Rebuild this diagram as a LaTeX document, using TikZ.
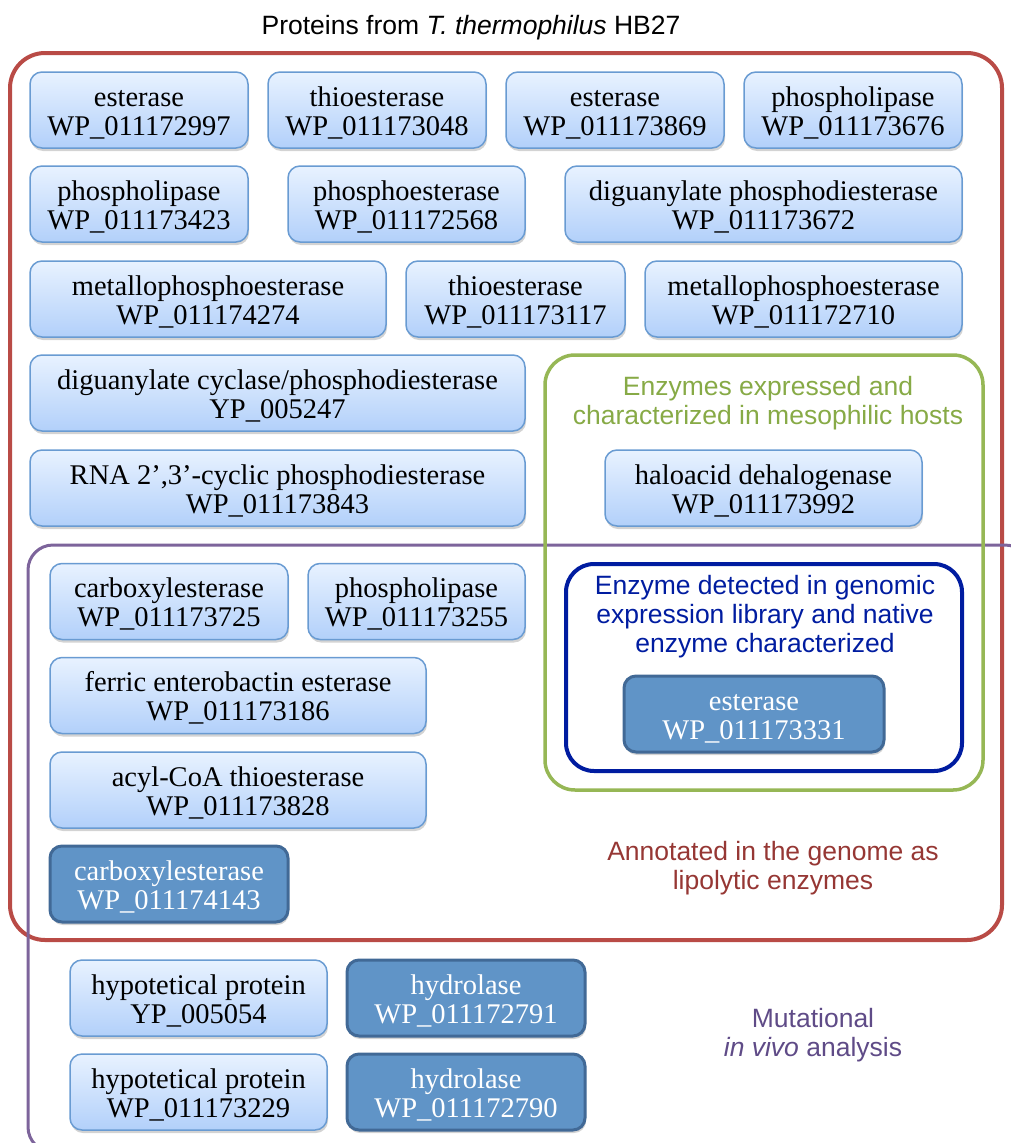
\documentclass[tikz,border=0pt]{standalone}
\usepackage{fontspec}
\setmainfont{Liberation Serif}
\newfontfamily\sansf{Liberation Sans}
\usetikzlibrary{shadows}
\definecolor{redc}{RGB}{185,75,70}
\definecolor{redt}{RGB}{150,55,52}
\definecolor{greenc}{RGB}{150,183,85}
\definecolor{greent}{RGB}{135,170,70}
\definecolor{navyc}{RGB}{0,28,160}
\definecolor{purc}{RGB}{125,100,155}
\definecolor{purt}{RGB}{95,75,135}
\definecolor{ltop}{RGB}{232,242,255}
\definecolor{lbot}{RGB}{178,208,250}
\definecolor{ledge}{RGB}{105,155,210}
\definecolor{dfill}{RGB}{96,148,199}
\definecolor{dedge}{RGB}{65,105,150}
\newcommand{\tl}[2]{\rule{0pt}{25pt}#1\\#2\rule[-4pt]{0pt}{4pt}}
\tikzset{
  lbox/.style={rounded corners=12pt, draw=ledge, line width=1.5pt,
    top color=ltop, bottom color=lbot, align=center, inner sep=0pt,
    minimum height=76pt, font=\fontsize{28.5}{29}\selectfont,
    drop shadow={shadow xshift=1pt, shadow yshift=-3pt, opacity=0.35}},
  dbox/.style={rounded corners=12pt, draw=dedge, line width=3pt,
    fill=dfill, text=white, align=center, inner sep=0pt,
    minimum height=76pt, font=\fontsize{28.5}{29}\selectfont,
    drop shadow={shadow xshift=1pt, shadow yshift=-3pt, opacity=0.35}},
  lbl/.style={align=center, font=\sansf\fontsize{26.5}{29}\selectfont},
}
\begin{document}
\begin{tikzpicture}[x=1pt,y=-1pt]
\useasboundingbox (0,0) rectangle (1011,1143);
\clip (0,0) rectangle (1011,1143);
% frames
\draw[redc, line width=4pt, rounded corners=35pt] (10,53) rectangle (1002,940);
\draw[purc, line width=3pt, rounded corners=25pt] (28,545) rectangle (1030,1152);
\draw[greenc, line width=3.5pt, rounded corners=30pt] (545,355) rectangle (983,790);
\draw[navyc, line width=4pt, rounded corners=28pt] (566,564) rectangle (962,771);
% labels
\node[lbl] (title) at (471,28) {Proteins from \textit{T. thermophilus} HB27};
\node[lbl, text=greent] (glbl) at (768,403) {Enzymes expressed and\\characterized in mesophilic hosts};
\node[lbl, text=navyc] (nlbl) at (765,617) {Enzyme detected in genomic\\expression library and native\\enzyme characterized};
\node[lbl, text=redt] (rlbl) at (773,868) {Annotated in the genome as\\lipolytic enzymes};
\node[lbl, text=purt] (plbl) at (813,1035) {Mutational\\\textit{in vivo} analysis};
% row 1
\node[lbox, minimum width=218pt] (a1) at (139,110) {\tl{esterase}{WP\_011172997}};
\node[lbox, minimum width=218pt] (a2) at (377,110) {\tl{thioesterase}{WP\_011173048}};
\node[lbox, minimum width=218pt] (a3) at (615,110) {\tl{esterase}{WP\_011173869}};
\node[lbox, minimum width=218pt] (a4) at (853,110) {\tl{phospholipase}{WP\_011173676}};
% row 2
\node[lbox, minimum width=218pt] (b1) at (139,204) {\tl{phospholipase}{WP\_011173423}};
\node[lbox, minimum width=237pt] (b2) at (406.5,204) {\tl{phosphoesterase}{WP\_011172568}};
\node[lbox, minimum width=397pt] (b3) at (763.5,204) {\tl{diguanylate phosphodiesterase}{WP\_011173672}};
% row 3
\node[lbox, minimum width=356pt] (c1) at (208,299) {\tl{metallophosphoesterase}{WP\_011174274}};
\node[lbox, minimum width=219pt] (c2) at (515.5,299) {\tl{thioesterase}{WP\_011173117}};
\node[lbox, minimum width=317pt] (c3) at (803.5,299) {\tl{metallophosphoesterase}{WP\_011172710}};
% row 4, 5
\node[lbox, minimum width=495pt] (d1) at (277.5,393) {\tl{diguanylate cyclase/phosphodiesterase}{YP\_005247}};
\node[lbox, minimum width=495pt] (e1) at (277.5,488) {\tl{RNA 2’,3’-cyclic phosphodiesterase}{WP\_011173843}};
\node[lbox, minimum width=317pt] (e2) at (763.5,488) {\tl{haloacid dehalogenase}{WP\_011173992}};
% lower
\node[lbox, minimum width=238pt] (f1) at (169,601.5) {\tl{carboxylesterase}{WP\_011173725}};
\node[lbox, minimum width=217pt] (f2) at (416.5,601.5) {\tl{phospholipase}{WP\_011173255}};
\node[lbox, minimum width=376pt] (g1) at (238,695.5) {\tl{ferric enterobactin esterase}{WP\_011173186}};
\node[lbox, minimum width=376pt] (h1) at (238,790) {\tl{acyl-CoA thioesterase}{WP\_011173828}};
\node[dbox, minimum width=238pt] (i1) at (169,884) {\tl{carboxylesterase}{WP\_011174143}};
\node[dbox, minimum width=260pt] (est) at (754,714) {\tl{esterase}{WP\_011173331}};
\node[lbox, minimum width=257pt] (j1) at (198.5,998) {\tl{hypotetical protein}{YP\_005054}};
\node[dbox, minimum width=238pt] (j2) at (466,998) {\tl{hydrolase}{WP\_011172791}};
\node[lbox, minimum width=257pt] (k1) at (198.5,1092) {\tl{hypotetical protein}{WP\_011173229}};
\node[dbox, minimum width=238pt] (k2) at (466,1092) {\tl{hydrolase}{WP\_011172790}};
\end{tikzpicture}
\end{document}
